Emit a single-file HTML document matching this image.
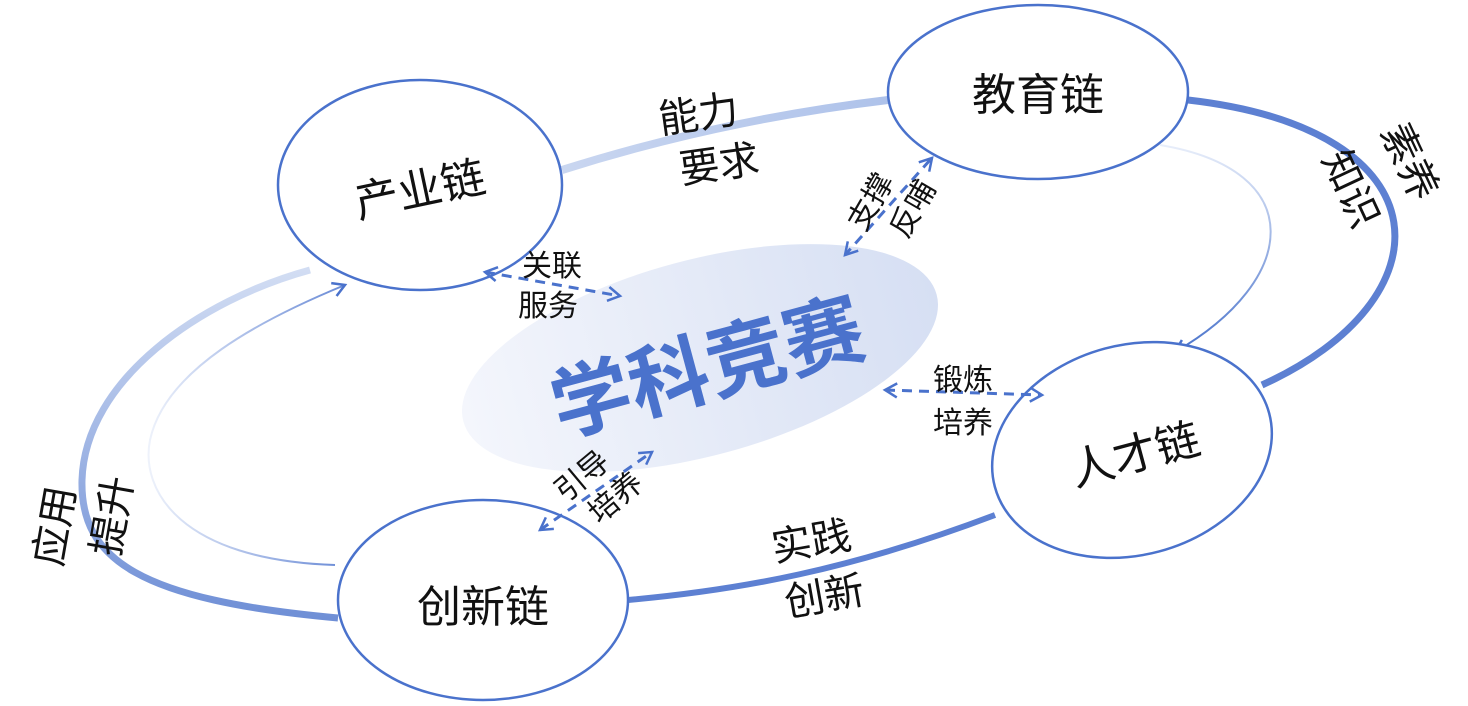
<!DOCTYPE html>
<html><head><meta charset="utf-8"><style>
html,body{margin:0;padding:0;background:#fff;}
svg{display:block;}
text{font-family:"Liberation Sans","Noto Sans CJK SC",sans-serif;fill:#111;}
</style></head><body>
<svg width="1468" height="706" viewBox="0 0 1468 706" xmlns="http://www.w3.org/2000/svg">
<defs>
<linearGradient id="cg" x1="0" y1="0" x2="1" y2="0">
<stop offset="0" stop-color="#f4f6fc"/><stop offset="1" stop-color="#d6dff3"/></linearGradient>
<linearGradient id="lg1" x1="0" y1="0" x2="1" y2="0">
<stop offset="0" stop-color="#c9d6f0"/><stop offset="1" stop-color="#aec2ea"/></linearGradient>
<linearGradient id="lg2" x1="0" y1="0" x2="0" y2="1">
<stop offset="0" stop-color="#d2ddf3"/><stop offset="1" stop-color="#6f8fd6"/></linearGradient>
<linearGradient id="lg3" x1="0" y1="0" x2="0" y2="1">
<stop offset="0" stop-color="#e8eefa"/><stop offset="1" stop-color="#4b74cc"/></linearGradient>
<linearGradient id="lg4" x1="0" y1="0" x2="1" y2="0">
<stop offset="0" stop-color="#eef2fb"/><stop offset="1" stop-color="#6a8bd6"/></linearGradient>
<marker id="ah" markerWidth="18" markerHeight="18" refX="14" refY="9" orient="auto" markerUnits="userSpaceOnUse">
<path d="M2,2 L14,9 L2,16" fill="none" stroke="#4a72cc" stroke-width="2.5"/></marker>
</defs>
<!-- outer loop -->
<path d="M562,170 Q720,120 888,100" stroke="url(#lg1)" stroke-width="8" fill="none"/>
<path d="M1188,100 C1450,130 1450,300 1262,385" stroke="#5d80d2" stroke-width="7" fill="none"/>
<path d="M995,515 C850,570 740,590 628,600" stroke="#5d80d2" stroke-width="6" fill="none"/>
<path d="M338,618 C140,600 80,560 82,480 C85,380 200,300 310,270" stroke="url(#lg2)" stroke-width="7" fill="none"/>
<!-- inner thin -->
<path d="M1160,145 C1310,170 1300,280 1175,352" stroke="url(#lg3)" stroke-width="2" fill="none" marker-end="url(#ah)"/>
<path d="M335,565 C180,560 140,490 150,440 C165,370 260,320 345,285" stroke="url(#lg4)" stroke-width="2" fill="none" marker-end="url(#ah)"/>
<!-- center -->
<ellipse cx="700" cy="358" rx="245" ry="98" transform="rotate(-15 700 358)" fill="url(#cg)"/>
<text x="708" y="396" font-size="80" font-weight="bold" style="fill:#4a72cc" text-anchor="middle" transform="rotate(-15 708 370)">学科竞赛</text>
<!-- nodes -->
<g fill="#fff" stroke="#4a72cc" stroke-width="2.5">
<ellipse cx="420" cy="185" rx="142" ry="105"/>
<ellipse cx="1038" cy="92" rx="150" ry="87"/>
<ellipse cx="1132" cy="450" rx="142" ry="105" transform="rotate(-15 1132 450)"/>
<ellipse cx="483" cy="600" rx="145" ry="100"/>
</g>
<text x="420" y="205" font-size="44" text-anchor="middle" transform="rotate(-12 420 190)">产业链</text>
<text x="1038" y="110" font-size="44" text-anchor="middle">教育链</text>
<text x="1135" y="470" font-size="44" text-anchor="middle" transform="rotate(-15 1135 455)">人才链</text>
<text x="483" y="622" font-size="44" text-anchor="middle">创新链</text>
<!-- dashed connectors -->
<g stroke="#4a72cc" stroke-width="3" stroke-dasharray="10,7" fill="none">
<path d="M485,272 L620,296" marker-end="url(#ah)"/>
<path d="M620,296 L485,272" stroke-dasharray="0,200" marker-end="url(#ah)"/>
<path d="M930,160 L845,255" marker-end="url(#ah)"/>
<path d="M845,255 L932,158" stroke-dasharray="0,200" marker-end="url(#ah)"/>
<path d="M885,390 L1042,395" marker-end="url(#ah)"/>
<path d="M1042,395 L885,390" stroke-dasharray="0,300" marker-end="url(#ah)"/>
<path d="M540,530 L652,452" marker-end="url(#ah)"/>
<path d="M652,452 L540,530" stroke-dasharray="0,200" marker-end="url(#ah)"/>
</g>
<!-- labels -->
<g font-size="30">
<text x="552" y="276" text-anchor="middle">关联</text>
<text x="548" y="316" text-anchor="middle">服务</text>
<text x="963" y="390" text-anchor="middle">锻炼</text>
<text x="963" y="433" text-anchor="middle">培养</text>
<g transform="rotate(-60 895 210)">
<text x="890" y="195" text-anchor="middle">支撑</text>
<text x="905" y="235" text-anchor="middle">反哺</text></g>
<g transform="rotate(-40 600 490)">
<text x="595" y="478" text-anchor="middle">引导</text>
<text x="607" y="516" text-anchor="middle">培养</text></g>
</g>
<g font-size="40">
<text x="700" y="128" text-anchor="middle" transform="rotate(-8 700 125)">能力</text>
<text x="720" y="178" text-anchor="middle" transform="rotate(-8 720 170)">要求</text>
<text x="812" y="555" text-anchor="middle" transform="rotate(-10 812 545)">实践</text>
<text x="825" y="610" text-anchor="middle" transform="rotate(-10 825 600)">创新</text>
<g transform="rotate(65 1370 180)">
<text x="1370" y="150" text-anchor="middle">素养</text>
<text x="1370" y="215" text-anchor="middle">知识</text></g>
<g transform="rotate(-80 90 520)">
<text x="78" y="500" text-anchor="middle">应用</text>
<text x="98" y="555" text-anchor="middle">提升</text></g>
</g>
</svg>
</body></html>
